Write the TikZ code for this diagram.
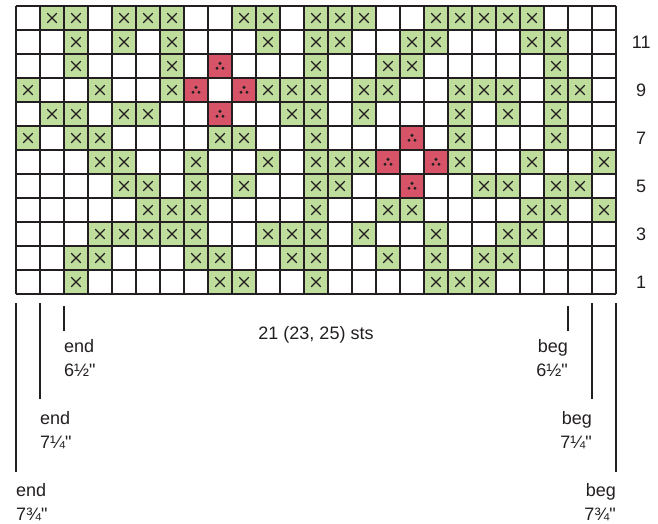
\documentclass[tikz,border=0pt]{standalone}
\usepackage{fontspec}
\setmainfont{Liberation Sans}[Ligatures=TeXOff]
\usetikzlibrary{positioning}
\definecolor{stitchgreen}{HTML}{BFDE9E}
\definecolor{stitchred}{HTML}{D75468}
\definecolor{gridink}{HTML}{231F20}
\begin{document}
\begin{tikzpicture}[x=24pt, y=24pt,
    font=\fontsize{18}{23}\selectfont,
    purl/.style={fill=stitchgreen},
    bobble/.style={fill=stitchred},
    cross/.style={gridink, line width=1.1pt},
    rule/.style={gridink, line width=1.9pt},
    tag/.style={inner sep=0pt, text=gridink}]
  \useasboundingbox (-0.6667,-9.5833) rectangle (26.75,12.25);
  \foreach \r/\cols in {12/{2,3,5,6,7,10,11,13,14,15,18,19,20,21,22},
      11/{3,5,7,11,13,14,17,18,22,23}, 10/{3,7,13,16,17,23},
      9/{1,4,7,11,12,13,15,16,19,20,21,23,24}, 8/{2,3,5,6,12,13,15,19,21,23},
      7/{1,3,4,9,10,13,19,23}, 6/{4,5,8,11,13,14,15,19,22,25},
      5/{5,6,8,10,13,14,20,21,23,24}, 4/{6,7,8,13,16,17,22,23,25},
      3/{4,5,6,7,8,11,12,13,15,18,21,22}, 2/{3,4,8,9,12,13,16,18,20,21},
      1/{3,9,10,13,18,19,20}}{%
    \foreach \c in \cols{%
      \fill[purl] (\c-1,\r-1) rectangle (\c,\r);
      \draw[cross] (\c-0.5,\r-0.5) +(-0.2,-0.2) -- +(0.2,0.2)
                   +(-0.2,0.2) -- +(0.2,-0.2);}}
  \foreach \c/\r in {9/10, 8/9, 10/9, 9/8, 17/7, 16/6, 18/6, 17/5}{%
    \fill[bobble] (\c-1,\r-1) rectangle (\c,\r);
    \foreach \dx/\dy in {0/0.11, -0.125/-0.095, 0.125/-0.095}
      \fill[gridink] (\c-0.5+\dx,\r-0.5+\dy) circle (0.07);}
  \draw[rule, step=1] (0,0) grid (25,12);
  \foreach \r in {1,3,...,11}
    \node[tag] (row\r) at (26.05,\r-0.5) {\r};
  \node[tag, anchor=base] (sts) at (12.5,-1.89) {21 (23, 25) sts};
  \foreach \k/\len/\ytop/\ybot in {0/6½/-0.5/-1.54, 1/7¼/-0.375/-4.39, 2/7¾/-0.375/-7.4}{%
    \coordinate (endtop\k) at (2-\k,\ytop);
    \coordinate (endbot\k) at (2-\k,\ybot);
    \coordinate (begtop\k) at (23+\k,\ytop);
    \coordinate (begbot\k) at (23+\k,\ybot);
    \draw[rule] (endtop\k) -- (endbot\k);
    \draw[rule] (begtop\k) -- (begbot\k);
    \node[tag, anchor=base west] (end\k) at (2-\k,-2.458-3*\k) {end};
    \node[tag, anchor=base west] (endlen\k) at (2-\k,-3.417-3*\k) {\len"};
    \node[tag, anchor=base east] (beg\k) at (23+\k,-2.458-3*\k) {beg};
    \node[tag, anchor=base east] (beglen\k) at (23+\k,-3.417-3*\k) {\len"};}
\end{tikzpicture}
\end{document}
